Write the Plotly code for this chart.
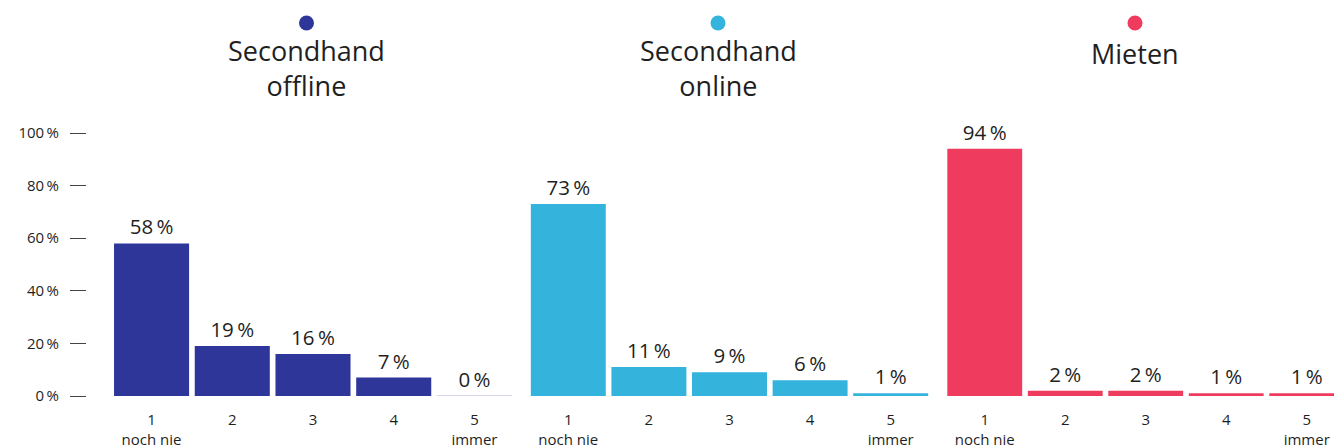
import plotly.graph_objects as go

# Survey answers: how often ... (1 = noch nie, 5 = immer)
categories = ["1<br>noch nie", "2", "3", "4", "5<br>immer"]
titles = ["Secondhand<br>offline", "Secondhand<br>online", "Mieten"]
colors = ["#2f3699", "#34b3dc", "#ef3b5e"]
zero_colors = ["#c9cbea", "#bfe6f4", "#fac4cf"]

offline = [58, 19, 16, 7, 0]
online = [73, 11, 9, 6, 1]
mieten = [94, 2, 2, 1, 1]
series = [offline, online, mieten]

y_ticks = [0, 20, 40, 60, 80, 100]
y_tick_text = ["0\u2009%", "20\u2009%", "40\u2009%", "60\u2009%", "80\u2009%", "100\u2009%"]

W, H = 1334, 448
FONT = "'Open Sans', Lato, sans-serif"
TXT = "#1f1f1f"

# panel domains (pixels)
domains_px = [(111.2, 514.8), (528.0, 931.0), (944.5, 1334.0)]
x_ranges = [[-0.5, 4.5], [-0.5, 4.5], [-0.5, 4.5 - (1347 - 1334) / 80.7]]
title_x_px = [306.5, 718, 1135]

fig = go.Figure()
for i, (vals, col) in enumerate(zip(series, colors)):
    ax = "" if i == 0 else str(i + 1)
    fig.add_trace(go.Bar(
        x=list(range(len(vals))),
        y=vals,
        xaxis="x" + ax,
        yaxis="y",
        marker=dict(
            color=col,
            line=dict(
                color=[zero_colors[i] if v == 0 else col for v in vals],
                width=[1.5 if v == 0 else 0 for v in vals],
            ),
        ),
        text=[f"{v}\u2009%" for v in vals],
        textposition="outside",
        textfont=dict(family=FONT, size=20.5, color=TXT),
        cliponaxis=False,
        showlegend=False,
        hoverinfo="skip",
    ))

layout = dict(
    width=W, height=H,
    margin=dict(l=0, r=0, t=133, b=52),
    paper_bgcolor="white", plot_bgcolor="white",
    bargap=0.07,
    font=dict(family=FONT, color=TXT),
    yaxis=dict(
        range=[0, 100], tickvals=y_ticks, ticktext=y_tick_text,
        anchor="free", position=86 / W,
        ticks="outside", ticklen=16, tickwidth=1, tickcolor="#444",
        ticklabelstandoff=8,
        tickfont=dict(family=FONT, size=15, color=TXT),
        showgrid=False, zeroline=False, showline=False,
    ),
)
for i in range(3):
    ax = "xaxis" if i == 0 else f"xaxis{i + 1}"
    layout[ax] = dict(
        domain=[domains_px[i][0] / W, domains_px[i][1] / W],
        range=x_ranges[i],
        tickvals=list(range(5)), ticktext=categories,
        tickfont=dict(family=FONT, size=15, color=TXT),
        ticklabelstandoff=13,
        showgrid=False, zeroline=False, showline=False, ticks="",
        anchor="y", fixedrange=True,
    )
fig.update_layout(**layout)

plot_h = H - 133 - 52
def py(y_px):
    return (H - 52 - y_px) / plot_h

for i, t in enumerate(titles):
    n_lines = t.count("<br>") + 1
    fig.add_annotation(
        x=title_x_px[i] / W, y=py(68 if n_lines > 1 else 53),
        xref="paper", yref="paper",
        text=t, showarrow=False, xanchor="center", yanchor="middle",
        font=dict(family=FONT, size=27, color=TXT),
    )
    r = 7.5
    fig.add_shape(
        type="circle", xref="paper", yref="paper",
        x0=(title_x_px[i] - r) / W, x1=(title_x_px[i] + r) / W,
        y0=py(23 + r), y1=py(23 - r),
        fillcolor=colors[i], line=dict(width=0),
    )

fig.write_html("out.html")
